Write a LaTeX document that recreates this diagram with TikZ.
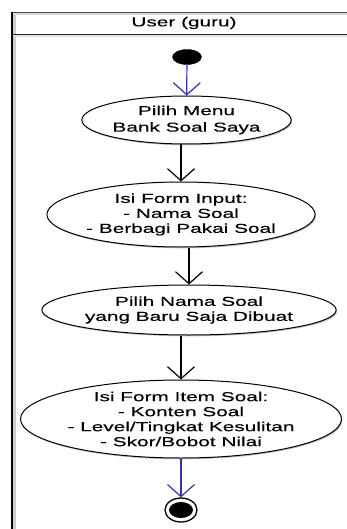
\documentclass[tikz,border=0pt]{standalone}
\usepackage{fontspec}
\setmainfont{Liberation Sans}[FakeStretch=1.6,FakeBold=0.25]
\usetikzlibrary{arrows.meta,shapes.geometric,shadows}
\definecolor{umlblue}{RGB}{51,51,170}
\begin{document}
\begin{tikzpicture}[x=1pt,y=-1pt,
  txt/.style={font=\fontsize{13}{15}\selectfont},
  act/.style={ellipse,draw=black,line width=1pt,fill=white,inner sep=0pt,align=center,txt,
    drop shadow={shadow xshift=1pt,shadow yshift=-1.3pt,fill=black!40,opacity=0.6}},
  flow/.style={line width=1.2pt,-{Straight Barb[length=12pt,width=27pt,line width=1.2pt]}},
  startnode/.style={ellipse,fill=black,draw=black,minimum width=29pt,minimum height=15pt,inner sep=0pt},
  endouter/.style={ellipse,draw=black,line width=1.3pt,fill=white,minimum width=32pt,minimum height=24pt,inner sep=0pt},
  endinner/.style={ellipse,fill=black,minimum width=24pt,minimum height=16pt,inner sep=0pt},
]
\useasboundingbox (0,0) rectangle (347,529);
\fill[white] (0,0) rectangle (347,529);
% swimlane frame
\fill[black!20] (13,13) rectangle (16,529);
\fill[black!15] (13,13) rectangle (347,15);
\fill[black!12] (13,35) rectangle (347,37);
\draw[black!70,line width=1pt] (12,12.5) -- (347,12.5);
\draw[black!85,line width=1pt] (12,34.5) -- (347,34.5);
\draw[black,line width=1.2pt] (12,12) -- (12,529);
\node[txt] (lane) at (184,23) {User (guru)};
% nodes
\node[startnode] (start) at (187,57) {};
\node[act,minimum width=201pt,minimum height=48pt] (n1) at (186.5,120) {Pilih Menu\\[1.5pt]Bank Soal Saya};
\node[act,minimum width=252pt,minimum height=65pt] (n2) at (181,214.5) {Isi Form Input:\\- Nama Soal\\- Berbagi Pakai Soal};
\node[act,minimum width=272pt,minimum height=50pt] (n3) at (189,310) {Pilih Nama Soal\\yang Baru Saja Dibuat};
\node[act,minimum width=290pt,minimum height=78pt] (n4) at (181,419) {Isi Form Item Soal:\\- Konten Soal\\- Level/Tingkat Kesulitan\\- Skor/Bobot Nilai};
\node[endouter] (end) at (181,510) {};
\node[endinner] (endc) at (end.center) {};
% flows
\draw[flow,umlblue] (start) -- (n1);
\draw[flow] (n2.north |- n1.south) -- (n2.north);
\draw[flow] (n3.north |- n2.south) -- (n3.north);
\draw[flow] (n4.north |- n3.south) -- (n4.north);
\draw[flow,umlblue] (n4.south) -- (end.north);
\end{tikzpicture}
\end{document}
